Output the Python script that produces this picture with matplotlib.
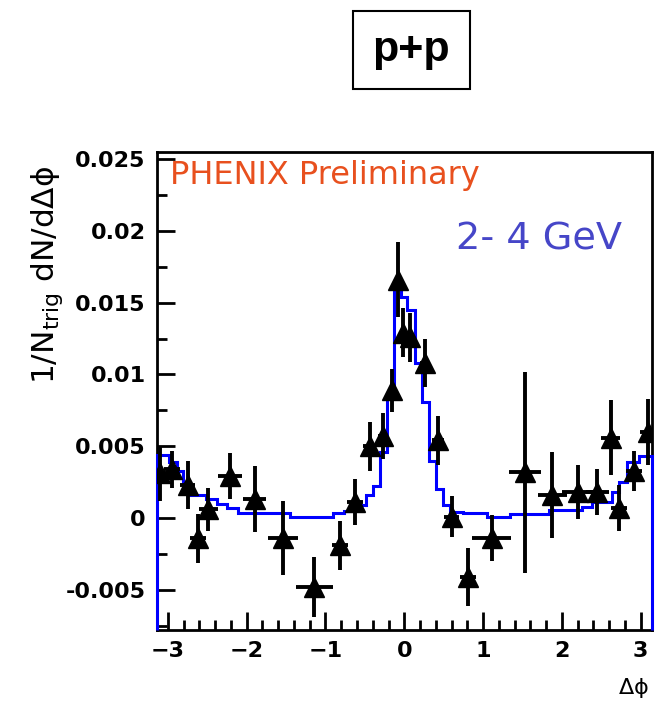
import matplotlib.pyplot as plt
from matplotlib.ticker import MultipleLocator, FuncFormatter

# --- data points (dphi, yield, errors) ---
dphi = [-3.10, -2.95, -2.75, -2.62, -2.49, -2.21, -1.90, -1.54, -1.14, -0.82,
        -0.63, -0.44, -0.27, -0.16, -0.08, -0.02, 0.07, 0.26, 0.43, 0.60,
        0.81, 1.11, 1.53, 1.88, 2.20, 2.45, 2.62, 2.72, 2.91, 3.09]
yld = [0.0031, 0.0034, 0.0023, -0.0014, 0.0006, 0.0029, 0.0013, -0.0014, -0.0048, -0.0019,
       0.0011, 0.0050, 0.0057, 0.0089, 0.0166, 0.0129, 0.0126, 0.0108, 0.0054, 0.0001,
       -0.0041, -0.0014, 0.0032, 0.0016, 0.0018, 0.0018, 0.0056, 0.0007, 0.0033, 0.0060]
yerr = [0.0019, 0.0013, 0.0017, 0.0017, 0.0015, 0.0016, 0.0023, 0.0026, 0.0021, 0.0017,
        0.0016, 0.0017, 0.0016, 0.0015, 0.0026, 0.0017, 0.0017, 0.0017, 0.0017, 0.0014,
        0.0020, 0.0016, 0.0070, 0.0030, 0.0019, 0.0016, 0.0026, 0.0016, 0.0014, 0.0023]
xerr = [0.10, 0.10, 0.10, 0.10, 0.12, 0.15, 0.15, 0.19, 0.24, 0.10,
        0.10, 0.08, 0.06, 0.05, 0.05, 0.05, 0.05, 0.06, 0.08, 0.10,
        0.10, 0.25, 0.20, 0.18, 0.20, 0.15, 0.12, 0.10, 0.10, 0.10]

# --- blue model histogram ---
hist_edges = [-3.14, -2.98, -2.89, -2.81, -2.72, -2.51, -2.38, -2.25, -2.11, -1.45,
              -0.91, -0.76, -0.63, -0.49, -0.40, -0.31, -0.22, -0.13, -0.04, 0.04,
              0.13, 0.22, 0.31, 0.40, 0.49, 0.58, 0.74, 1.05, 1.34, 1.83,
              2.25, 2.38, 2.64, 2.73, 2.82, 2.98, 3.14]
hist_vals = [0.0044, 0.0039, 0.0033, 0.0025, 0.0016, 0.0013, 0.0010, 0.0007, 0.00035, 0.0001,
             0.00035, 0.0005, 0.0009, 0.0016, 0.0022, 0.0046, 0.0086, 0.0160, 0.0154, 0.0145,
             0.0108, 0.0081, 0.0040, 0.0020, 0.0009, 0.0004, 0.00035, 0.0001, 0.0003, 0.00056,
             0.0008, 0.0011, 0.0018, 0.0025, 0.0039, 0.0043]

xticks = [-3, -2, -1, 0, 1, 2, 3]
ymin, ymax = -0.0078, 0.0255

fig = plt.figure(figsize=(6.59, 7.02), dpi=100)
ax = fig.add_axes([0.238, 0.1026, 0.751, 0.681])

ax.stairs(hist_vals, hist_edges, baseline=ymin, color='#0000ff', lw=2.2,
          zorder=3, clip_on=False)
ax.errorbar(dphi, yld, yerr=yerr, xerr=xerr, fmt='^', color='black',
            markersize=14, elinewidth=2.8, capsize=0, zorder=4)

ax.set_xlim(-3.14, 3.14)
ax.set_ylim(ymin, ymax)
ax.set_xticks(xticks)
ax.xaxis.set_minor_locator(MultipleLocator(0.2))
ax.yaxis.set_major_locator(MultipleLocator(0.005))
ax.yaxis.set_minor_locator(MultipleLocator(0.0025))
ax.yaxis.set_major_formatter(FuncFormatter(lambda v, p: '%g' % round(v, 4)))

ax.tick_params(which='both', direction='in', top=False, right=False, width=2)
ax.tick_params(which='major', length=13, labelsize=16, pad=8)
ax.tick_params(which='minor', length=7)
for lab in ax.get_xticklabels() + ax.get_yticklabels():
    lab.set_fontweight('bold')
for sp in ax.spines.values():
    sp.set_linewidth(2)

ax.set_ylabel(r'1/N$_{\mathregular{trig}}$ dN/d$\mathregular{\Delta\phi}$', fontsize=22.5)
ax.yaxis.set_label_coords(-0.186, 0.743)
ax.text(0.962, -0.122, r'$\mathregular{\Delta\phi}$', transform=ax.transAxes,
        ha='center', va='center', fontsize=16)

ax.text(0.026, 0.95, 'PHENIX Preliminary', transform=ax.transAxes,
        color='#e8501e', fontsize=23, ha='left', va='center')
ax.text(0.939, 0.816, '2- 4 GeV', transform=ax.transAxes,
        color='#4646c8', fontsize=27.5, ha='right', va='center')

# titel-boks
fig.text(0.6244, 0.9288, 'p+p', fontsize=31, fontweight='bold',
         family='Liberation Sans', ha='center', va='center',
         bbox=dict(boxstyle='square,pad=0.45', fc='white', ec='black', lw=1.5))

fig.savefig('out.png', dpi=100)
